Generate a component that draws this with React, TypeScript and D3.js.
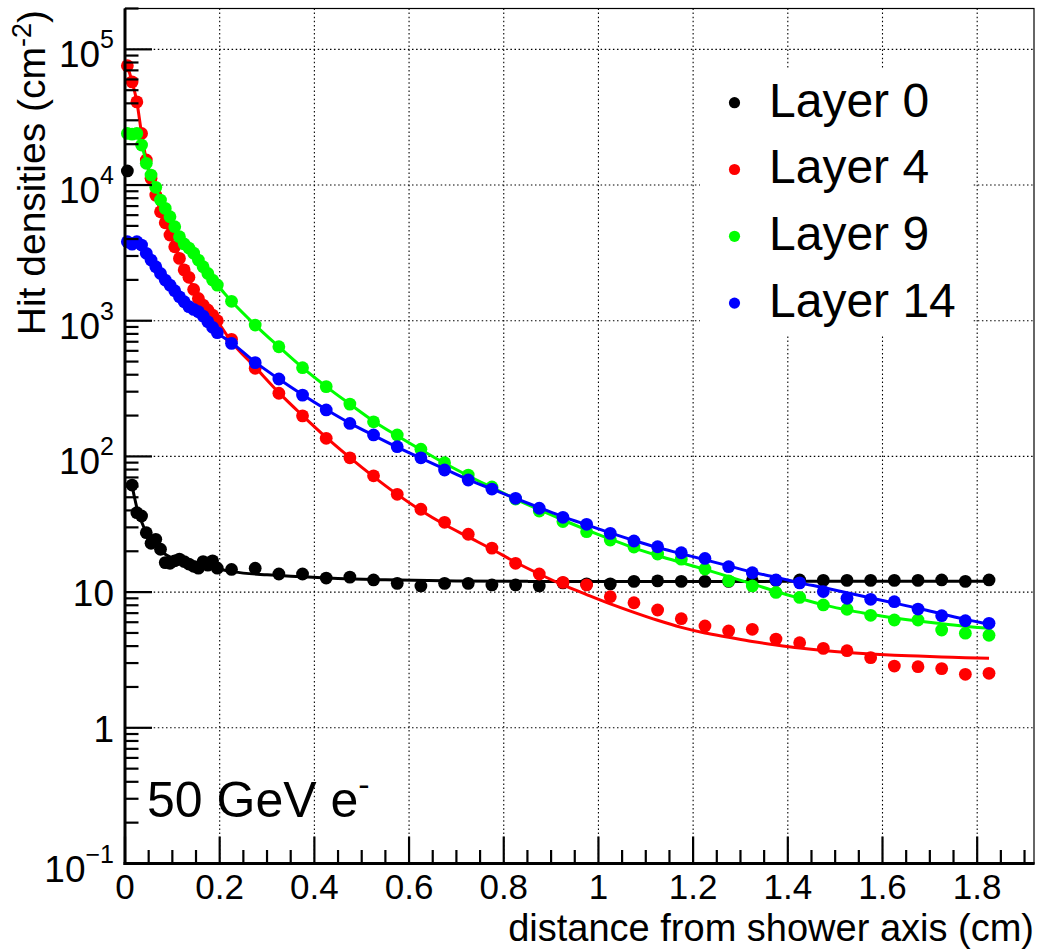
import React from "react";
import * as d3 from "d3";

// Radial bin centres (cm): 0.01 cm bins up to 0.2, then 0.05 cm bins
const binCenters = [
  0.005, 0.015, 0.025, 0.035, 0.045, 0.055, 0.065, 0.075, 0.085, 0.095,
  0.105, 0.115, 0.125, 0.135, 0.145, 0.155, 0.165, 0.175, 0.185, 0.195,
  0.225, 0.275, 0.325, 0.375, 0.425, 0.475, 0.525, 0.575, 0.625, 0.675,
  0.725, 0.775, 0.825, 0.875, 0.925, 0.975, 1.025, 1.075, 1.125, 1.175,
  1.225, 1.275, 1.325, 1.375, 1.425, 1.475, 1.525, 1.575, 1.625, 1.675,
  1.725, 1.775, 1.825,
];

// Hit densities (cm^-2) per layer
const layer0 = [
  12700, 61.5, 38.5, 36.4, 27.4, 22.9, 24.5, 20.7, 16.5, 16.3,
  17.0, 17.5, 16.8, 16.1, 15.5, 15.0, 16.8, 15.8, 17.0, 15.0,
  14.7, 15.0, 13.6, 13.6, 12.7, 12.9, 12.3, 11.6, 11.1, 11.6,
  11.6, 11.3, 11.3, 11.1, 11.7, 11.5, 11.5, 12.0, 12.1, 12.0,
  12.0, 12.0, 12.1, 12.2, 12.3, 12.2, 12.2, 12.2, 12.2, 12.2,
  12.3, 12.0, 12.3,
];
const layer4 = [
  75700, 57600, 41000, 24000, 15300, 11200, 8430, 6350, 5270, 4280,
  3510, 2880, 2370, 2090, 1700, 1460, 1305, 1200, 1100, 1000,
  730, 446, 292, 199, 136, 97.7, 72, 52.6, 40.8, 32.7,
  26.7, 21.1, 16.3, 13.6, 11.8, 11.3, 9.25, 8.35, 7.38, 6.37,
  5.63, 5.17, 5.32, 4.51, 4.24, 3.85, 3.7, 3.29, 2.85, 2.82,
  2.73, 2.48, 2.52,
];
const layer9 = [
  24000, 23700, 24000, 19700, 14450, 11850, 9620, 7750, 6730, 5840,
  4930, 4160, 3680, 3430, 3150, 2800, 2500, 2230, 1995, 1830,
  1390, 929, 643, 451, 327, 243, 180, 144, 113, 89.8,
  72.9, 59.5, 48.5, 39.6, 33.1, 27.9, 24.2, 21.5, 19.1, 17.5,
  14.8, 12.1, 11.1, 9.95, 9.15, 8.04, 7.47, 6.75, 6.23, 6.23,
  5.26, 4.98, 4.81,
];
const layer14 = [
  3820, 3670, 3820, 3610, 3140, 2800, 2500, 2230, 1995, 1830,
  1665, 1500, 1380, 1270, 1213, 1165, 1083, 984, 894, 816,
  681, 491, 372, 283, 220, 175, 144, 118, 97.7, 79.4,
  67.0, 57.5, 49.1, 41.5, 35.6, 31.6, 27.1, 23.8, 21.6, 19.5,
  17.7, 15.4, 13.9, 12.3, 11.7, 10.1, 9.0, 8.85, 8.5, 7.5,
  6.7, 6.15, 5.89,
];

// Fitted functions, evaluated at the bin centres
const fit4 = [
  75700, 57600, 41000, 24000, 15300, 11200, 8430, 6350, 5270, 4280,
  3510, 2880, 2370, 2050, 1720, 1470, 1310, 1190, 1090, 990,
  700, 455, 295, 200, 138, 98, 71, 52.5, 40, 31.5,
  25.5, 20.7, 16.6, 13.6, 11.3, 9.6, 8.2, 7.1, 6.2, 5.5,
  5.0, 4.65, 4.33, 4.08, 3.87, 3.71, 3.59, 3.5, 3.43, 3.38,
  3.33, 3.29, 3.25,
];
const fit9 = [
  24500, 24000, 23000, 19700, 14800, 11900, 9620, 7750, 6730, 5840,
  4930, 4200, 3680, 3400, 3120, 2800, 2500, 2230, 1995, 1830,
  1390, 929, 643, 451, 327, 243, 182, 142, 112, 89,
  72, 59, 48.5, 40.5, 34, 28.8, 24.6, 21.2, 18.6, 16.5,
  14.7, 13.0, 11.5, 10.1, 9.0, 8.05, 7.4, 6.86, 6.45, 6.12,
  5.85, 5.6, 5.41,
];
const fit14 = [
  3800, 3750, 3700, 3550, 3150, 2800, 2500, 2230, 2000, 1830,
  1665, 1510, 1385, 1280, 1200, 1140, 1070, 985, 900, 820,
  690, 495, 372, 285, 222, 176, 143, 117, 97, 81,
  67.5, 57.5, 49, 42, 36, 31.3, 27.3, 24, 21.3, 19.2,
  17.3, 15.6, 14.0, 12.9, 11.7, 10.8, 9.9, 9.05, 8.3, 7.6,
  6.9, 6.3, 5.8,
];
// Layer 0 fit is sampled on its own grid (it starts at the second bin)
const fit0X = [0.015, 0.02, 0.025, 0.035, 0.045, 0.06, 0.08, 0.1, 0.14, 0.19, 0.23, 0.3, 0.37, 0.45, 0.55, 0.7, 0.85, 1.0, 1.4, 1.82];
const fit0Y = [61, 50, 42, 33, 27.5, 22.5, 19.5, 17.8, 16.1, 15.0, 14.1, 13.4, 13.0, 12.6, 12.35, 12.1, 12.0, 11.95, 12.0, 12.0];

const layerNames = ["Layer 0", "Layer 4", "Layer 9", "Layer 14"];
const layerColors = ["#000000", "#ff0000", "#00ff00", "#0000ff"];

const xTickValues = [0, 0.2, 0.4, 0.6, 0.8, 1, 1.2, 1.4, 1.6, 1.8];
const xTickLabels = ["0", "0.2", "0.4", "0.6", "0.8", "1", "1.2", "1.4", "1.6", "1.8"];
const yTickValues = [0.1, 1, 10, 100, 1e3, 1e4, 1e5];
const yTickBases = ["10", "1", "10", "10", "10", "10", "10"];
const yTickExps = ["\u22121", "", "", "2", "3", "4", "5"];

const FONT = "'Liberation Sans', Arial, Helvetica, sans-serif";

export default function App() {
  const W = 1037;
  const H = 949;
  const left = 125, right = 1034, top = 8.5, bottom = 863.5;

  const x = d3.scaleLinear().domain([0, 1.92]).range([left, right]);
  const y = d3.scaleLog().domain([0.1, 2e5]).range([bottom, top]);

  const line = d3
    .line<[number, number]>()
    .x((d) => x(d[0]))
    .y((d) => y(d[1]))
    .curve(d3.curveMonotoneX);

  const series = [
    { data: layer0, fit: fit0X.map((v, i) => [v, fit0Y[i]] as [number, number]) },
    { data: layer4, fit: binCenters.map((v, i) => [v, fit4[i]] as [number, number]) },
    { data: layer9, fit: binCenters.map((v, i) => [v, fit9[i]] as [number, number]) },
    { data: layer14, fit: binCenters.map((v, i) => [v, fit14[i]] as [number, number]) },
  ];

  const xMinor = d3.range(0, 1.921, 0.05).filter((v) => Math.abs(v / 0.2 - Math.round(v / 0.2)) > 1e-6);
  const yMinor: number[] = [];
  [0.1, 1, 10, 100, 1e3, 1e4, 1e5].forEach((d) => {
    for (let k = 2; k <= 9; k++) if (d * k <= 2e5 + 1) yMinor.push(d * k);
  });

  const grid = { stroke: "#000", strokeWidth: 1.1, strokeDasharray: "1.5,2.6" };

  return (
    <svg
      width={W}
      height={H}
      style={{ position: "absolute", left: 0, top: 0, background: "#fff" }}
      fontFamily={FONT}
    >
      <rect x={0} y={0} width={W} height={H} fill="#fff" />

      {/* grid */}
      {xTickValues.slice(1).map((v) => (
        <line key={"gx" + v} x1={x(v)} x2={x(v)} y1={top} y2={bottom} {...grid} />
      ))}
      {yTickValues.slice(1).map((v) => (
        <line key={"gy" + v} x1={left} x2={right} y1={y(v)} y2={y(v)} {...grid} />
      ))}

      {/* legend background */}
      <rect x={700} y={68} width={272} height={268} fill="#fff" />

      {/* fits and points */}
      {series.map((s, si) => (
        <g key={"s" + si}>
          <path d={line(s.fit) || ""} fill="none" stroke={layerColors[si]} strokeWidth={3} />
          {s.data.map((v, i) => (
            <circle key={i} cx={x(binCenters[i])} cy={y(v)} r={6.4} fill={layerColors[si]} />
          ))}
        </g>
      ))}

      {/* frame */}
      <rect x={left} y={top} width={right - left} height={bottom - top} fill="none" stroke="#000" strokeWidth={1.2} />
      <line x1={left} x2={left} y1={top} y2={bottom + 1.5} stroke="#000" strokeWidth={3} />
      <line x1={left - 1.5} x2={right + 0.6} y1={bottom} y2={bottom} stroke="#000" strokeWidth={3} />

      {/* x ticks */}
      {xTickValues.map((v) => (
        <line key={"xt" + v} x1={x(v)} x2={x(v)} y1={bottom} y2={bottom - 27} stroke="#000" strokeWidth={2.2} />
      ))}
      {xMinor.map((v) => (
        <line key={"xm" + v} x1={x(v)} x2={x(v)} y1={bottom} y2={bottom - 13.5} stroke="#000" strokeWidth={2.2} />
      ))}
      {xTickValues.map((v, i) => (
        <text key={"xl" + v} x={x(v)} y={899} textAnchor="middle" fontSize={35}>
          {xTickLabels[i]}
        </text>
      ))}

      {/* y ticks */}
      {yTickValues.map((v) => (
        <line key={"yt" + v} x1={left} x2={left + 27} y1={y(v)} y2={y(v)} stroke="#000" strokeWidth={2.2} />
      ))}
      {yMinor.map((v) => (
        <line key={"ym" + v} x1={left} x2={left + 13.5} y1={y(v)} y2={y(v)} stroke="#000" strokeWidth={2.2} />
      ))}
      {yTickValues.map((v, i) =>
        yTickExps[i] ? (
          <text key={"yl" + v} x={114} y={y(v) + 18} textAnchor="end" fontSize={37}>
            {yTickBases[i]}
            <tspan dy={-19} fontSize={25}>
              {yTickExps[i]}
            </tspan>
          </text>
        ) : (
          <text key={"yl" + v} x={114} y={y(v) + 14} textAnchor="end" fontSize={37}>
            {yTickBases[i]}
          </text>
        )
      )}

      {/* axis titles */}
      <text x={1034} y={941} textAnchor="end" fontSize={38}>
        distance from shower axis (cm)
      </text>
      <text transform="translate(45,10) rotate(-90)" textAnchor="end" fontSize={39}>
        Hit densities (cm
        <tspan dy={-14} fontSize={27}>
          -2
        </tspan>
        <tspan dy={14}>)</tspan>
      </text>

      {/* legend */}
      {layerNames.map((name, i) => (
        <g key={"lg" + i}>
          <circle cx={734.5} cy={102.7 + i * 66.8} r={5.6} fill={layerColors[i]} />
          <text x={769} y={116.5 + i * 66.8} fontSize={48}>
            {name}
          </text>
        </g>
      ))}

      {/* beam label */}
      <text x={147} y={817} fontSize={50}>
        50 GeV e
        <tspan dy={-21} fontSize={34}>
          -
        </tspan>
      </text>
    </svg>
  );
}
